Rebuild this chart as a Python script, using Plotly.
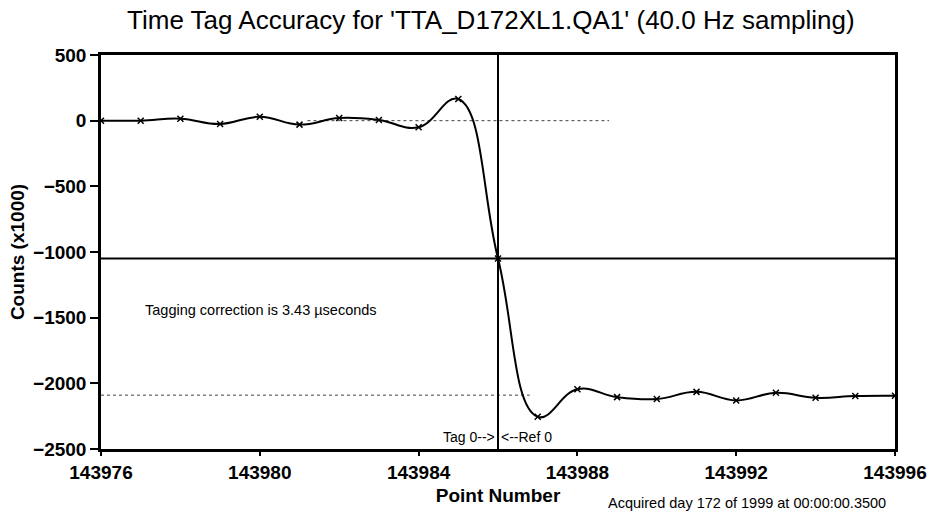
import plotly.graph_objects as go

# sample points (x1000 counts)
point_num = list(range(143976, 143997))
counts = [0, 0, 15, -25, 30, -30, 20, 5, -50, 165, -1050,
          -2255, -2045, -2105, -2120, -2065, -2130, -2072, -2110, -2097, -2095]

tag_point = 143986
ref_level = -1050
zero_span = [143981.2, 143988.8]
base_level = -2090
base_span = [143976, 143986.8]

x_ticks = [143976, 143980, 143984, 143988, 143992, 143996]
y_ticks = [500, 0, -500, -1000, -1500, -2000, -2500]

FONT = "Liberation Sans, Arial, sans-serif"

fig = go.Figure()

# dotted reference levels
fig.add_trace(go.Scatter(x=zero_span, y=[0, 0], mode="lines",
                         line=dict(color="#444", width=1, dash="dot"), showlegend=False))
fig.add_trace(go.Scatter(x=base_span, y=[base_level, base_level], mode="lines",
                         line=dict(color="#444", width=1, dash="dot"), showlegend=False))

# interpolated waveform with sample marks
fig.add_trace(go.Scatter(x=point_num, y=counts, mode="lines+markers",
                         line=dict(color="black", width=2, shape="spline", smoothing=1.2),
                         marker=dict(symbol="x-thin", size=6, color="black",
                                     line=dict(color="black", width=1.5)),
                         showlegend=False))

# crosshair at tag point
fig.add_shape(type="line", x0=tag_point, x1=tag_point, y0=-2500, y1=500,
              line=dict(color="black", width=2))
fig.add_shape(type="line", x0=143976, x1=143996, y0=ref_level, y1=ref_level,
              line=dict(color="black", width=2))

fig.add_annotation(x=143977.05, y=-1440, text="Tagging correction is 3.43 \u00b5seconds",
                   showarrow=False, xanchor="left", font=dict(size=14.5, family=FONT, color="black"))
fig.add_annotation(x=tag_point, y=-2500, text="Tag 0-->", showarrow=False,
                   xanchor="right", yanchor="bottom", xshift=-1, yshift=2,
                   font=dict(size=14, family=FONT, color="black"))
fig.add_annotation(x=tag_point, y=-2500, text="<--Ref 0", showarrow=False,
                   xanchor="left", yanchor="bottom", xshift=1, yshift=2,
                   font=dict(size=14, family=FONT, color="black"))
fig.add_annotation(x=(888 - 101) / (929 - 101 - 34), y=-(503 - 449) / (512 - 55 - 63),
                   xref="paper", yref="paper",
                   text="Acquired day 172 of 1999 at 00:00:00.3500", showarrow=False,
                   xanchor="right", yanchor="middle", font=dict(size=14.5, family=FONT, color="black"))

fig.update_layout(
    width=929, height=512,
    margin=dict(l=101, r=34, t=55, b=63),
    paper_bgcolor="white", plot_bgcolor="white",
    font=dict(family=FONT, color="black"),
    title=dict(text="Time Tag Accuracy for 'TTA_D172XL1.QA1' (40.0 Hz sampling)",
               xref="paper", x=0.491, xanchor="center", y=0.962, yanchor="middle",
               font=dict(size=26, family=FONT, color="black")),
)

fig.update_xaxes(range=[143976, 143996], tickvals=x_ticks, ticktext=[str(v) for v in x_ticks],
                 showgrid=False, zeroline=False, showline=True, linecolor="black", linewidth=2.5,
                 mirror=True, ticks="outside", ticklen=4, tickwidth=2, tickcolor="black",
                 automargin=False,
                 tickfont=dict(size=19, family=FONT, color="black", weight="bold"),
                 title=dict(text="<b>Point Number</b>", standoff=8,
                            font=dict(size=19, family=FONT, color="black")))
fig.update_yaxes(range=[-2500, 500], tickvals=y_ticks,
                 showgrid=False, zeroline=False, showline=True, linecolor="black", linewidth=2.5,
                 mirror=True, ticks="outside", ticklen=8, tickwidth=2, tickcolor="black",
                 automargin=False,
                 tickfont=dict(size=19, family=FONT, color="black", weight="bold"),
                 title=dict(text="<b>Counts (x1000)</b>", standoff=4,
                            font=dict(size=19, family=FONT, color="black")))

fig.write_html("out.html", config={"displayModeBar": False},
               post_script="document.body.style.margin='0';")
